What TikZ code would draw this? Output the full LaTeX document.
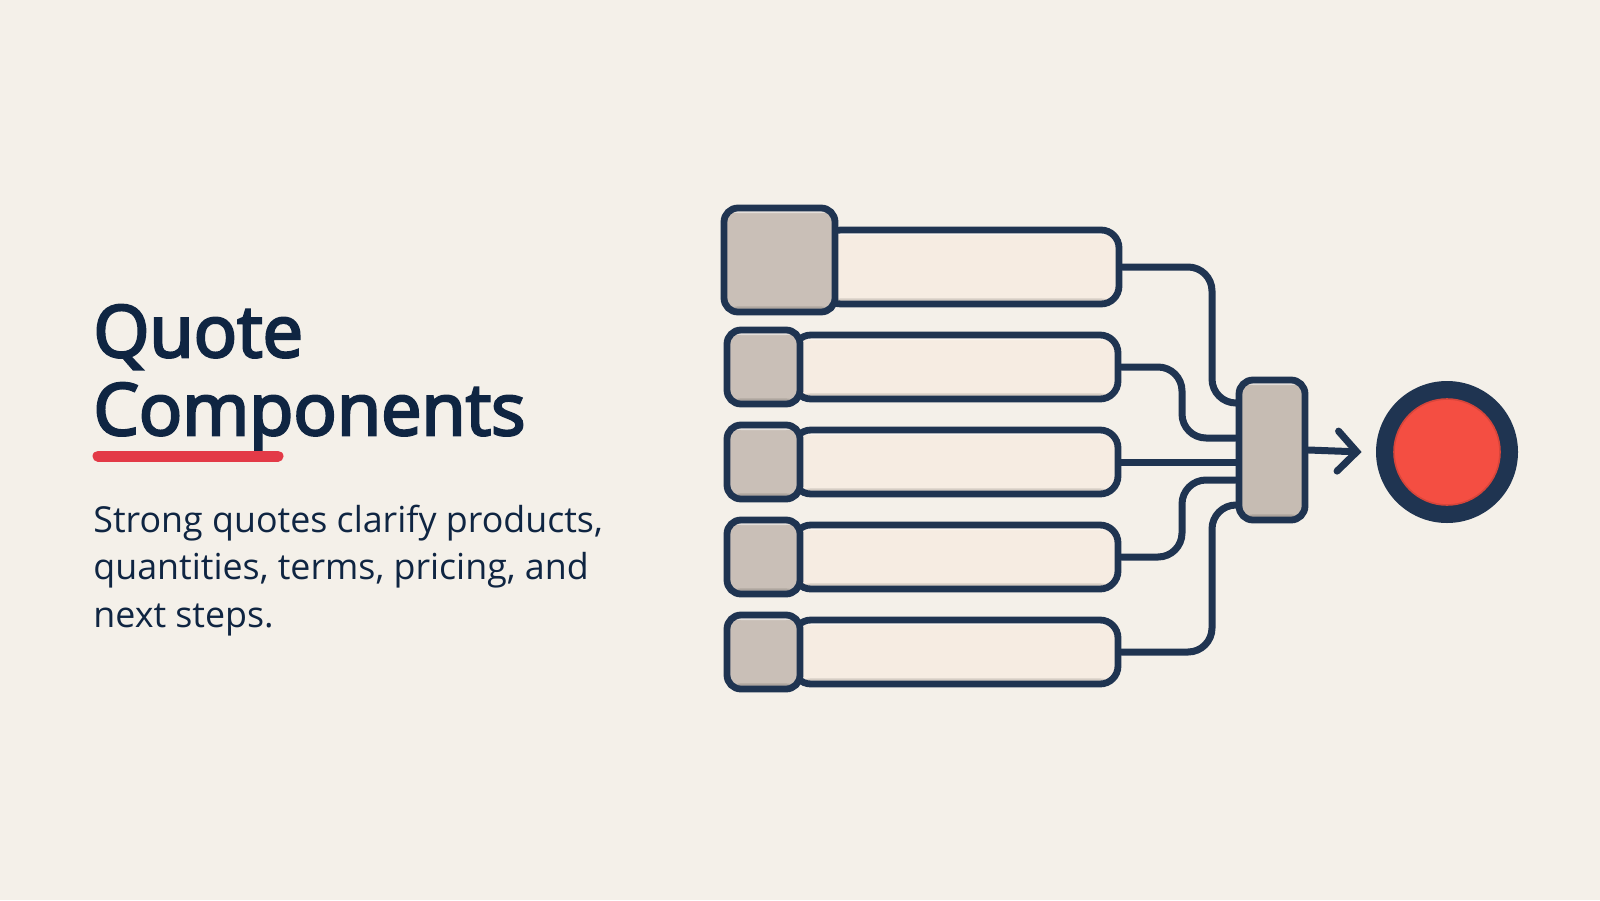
\documentclass[tikz,border=0pt]{standalone}
\usepackage{fontspec}
\setmainfont{Open Sans}
\newfontfamily\headfont{Open Sans}[FakeBold=3.5]
\usetikzlibrary{arrows.meta}
\definecolor{paper}{HTML}{F4F0E9}
\definecolor{navy}{HTML}{1F3451}
\definecolor{ink}{HTML}{0F2542}
\definecolor{keyfill}{HTML}{C9BFB7}
\definecolor{barfill}{HTML}{F6ECE2}
\definecolor{hubfill}{HTML}{C6BCB3}
\definecolor{signal}{HTML}{F44E42}
\definecolor{accent}{HTML}{E33A47}

\begin{document}
\begin{tikzpicture}[x=0.5pt, y=-0.5pt,
    bevel/.style={path picture={
        \fill[black, opacity=0.13] ([yshift=2.8pt]path picture bounding box.south west) rectangle (path picture bounding box.south east);
        \fill[white, opacity=0.5] (path picture bounding box.north west) rectangle ([yshift=-2.5pt]path picture bounding box.north east);}},
    keybox/.style={draw=navy, line width=3.4pt, fill=keyfill, rounded corners=7pt, inner sep=0pt, bevel},
    barbox/.style={draw=navy, line width=3.4pt, fill=barfill, rounded corners=9pt, inner sep=0pt, minimum height=32pt, bevel},
    wire/.style={draw=navy, line width=3.5pt, line cap=round, rounded corners=12pt},
    titletext/.style={inner sep=0pt, anchor=base west, text=ink, font=\headfont\fontsize{36}{45}\selectfont},
    bodytext/.style={inner sep=0pt, anchor=base west, text=ink, font=\fontsize{17.9}{24}\selectfont}]
    \fill[paper] (0,0) rectangle (1600,900);
    \useasboundingbox (0,0) rectangle (1600,900);

    % heading and text
    \node[titletext] (title1) at (93,357) {Quote};
    \node[titletext] (title2) at (93,435) {Components};
    \draw[accent, line width=5.5pt, line cap=round] (98,456) -- (278,456);
    \node[bodytext] (body1) at (93,532) {Strong quotes clarify products,};
    \node[bodytext] (body2) at (93,579) {quantities, terms, pricing, and};
    \node[bodytext] (body3) at (93,627) {next steps.};

    % component rows
    \node[barbox, minimum width=148pt, minimum height=37pt] (bar1) at (971,267) {};
    \node[keybox, minimum width=55.5pt, minimum height=52pt] (key1) at (779.5,260) {};
    \foreach \i/\y in {2/367,3/462,4/557,5/652} {
        \node[barbox, minimum width=162.5pt] (bar\i) at (955.5,\y) {};
        \node[keybox, minimum width=36.5pt, minimum height=37pt] (key\i) at (763.5,\y) {};
    }

    % collector and target
    \node[keybox, fill=hubfill, minimum width=33pt, minimum height=70pt] (hub) at (1272,450) {};
    \node[circle, fill=navy, minimum size=71pt, inner sep=0pt] (goal) at (1447,452) {};
    \node[circle, fill=signal, draw=signal!88!black, line width=0.8pt, minimum size=53pt, inner sep=0pt] (dot) at (goal) {};

    % wires into the collector
    \draw[wire] (bar1.east) -- (1212,267) -- (1212,403) -- ([yshift=23.5pt]hub.west);
    \draw[wire] (bar2.east) -- (1182,367) -- (1182,438) -- ([yshift=6pt]hub.west);
    \draw[wire] (bar3.east) -- (bar3.east -| hub.west);
    \draw[wire] (bar4.east) -- (1182,557) -- (1182,480) -- ([yshift=-15pt]hub.west);
    \draw[wire] (bar5.east) -- (1212,652) -- (1212,505) -- ([yshift=-27.5pt]hub.west);
    \draw[wire, -{Straight Barb[length=9.5pt, width=20pt, line cap=round]}] (hub.east) -- ([xshift=-7pt]goal.west);
\end{tikzpicture}
\end{document}
